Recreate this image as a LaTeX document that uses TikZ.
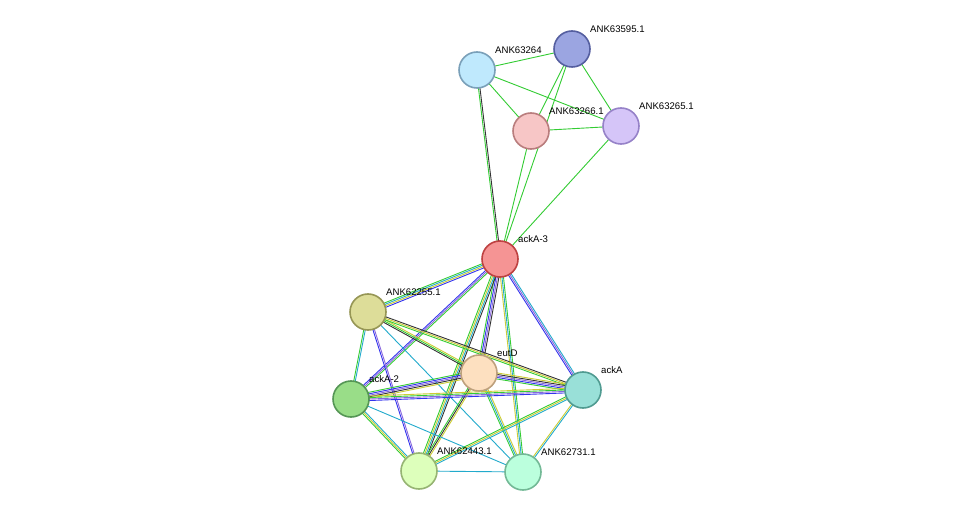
\documentclass[tikz,border=0pt]{standalone}
\usepackage{fontspec}
\setmainfont{Liberation Sans}
\usetikzlibrary{calc}
\definecolor{cg}{HTML}{33CC33}
\definecolor{cd}{HTML}{333333}
\definecolor{cb}{HTML}{3333EE}
\definecolor{cc}{HTML}{22AACC}
\definecolor{cy}{HTML}{CCCC33}
\definecolor{cp}{HTML}{8866DD}
\newcommand\edg[4]{\foreach \c [count=\i] in {#4} {\pgfmathsetmacro\o{(\i-(#3+1)/2)*1.5}
 \draw[\c,line width=0.9pt] ($(#1)!\o pt!90:(#2)$) -- ($(#2)!\o pt!-90:(#1)$);}}
\tikzset{prot/.style={circle,minimum size=36pt,inner sep=0pt,line width=1.6pt},
 lab/.style={font=\fontsize{9.6}{11}\selectfont,anchor=south west,inner sep=0pt}}
\begin{document}
\begin{tikzpicture}[x=1pt,y=-1pt]
\useasboundingbox[fill=white] (0,0) rectangle (976,518);
\coordinate (p64) at (477,70);
\coordinate (p95) at (572,49);
\coordinate (p66) at (531,131);
\coordinate (p65) at (621,126);
\coordinate (a3) at (500,259);
\coordinate (p55) at (368,312);
\coordinate (eu) at (479,373);
\coordinate (a2) at (351,399);
\coordinate (aa) at (583,390);
\coordinate (p43) at (419,471);
\coordinate (p31) at (523,472);
\edg{p64}{p95}{1}{cg}
\edg{p64}{p66}{1}{cg}
\edg{p64}{p65}{1}{cg}
\edg{p95}{p66}{1}{cg}
\edg{p95}{p65}{1}{cg}
\edg{p66}{p65}{1}{cg}
\edg{p65}{a3}{1}{cg}
\edg{p66}{a3}{1}{cg}
\edg{p95}{a3}{1}{cg}
\edg{p64}{a3}{2}{cg,cd}
\edg{a3}{p55}{4}{cg,cc,cy,cb}
\edg{a3}{eu}{4}{cg,cb,cp,cd}
\edg{a3}{a2}{3}{cb,cp,cg}
\edg{a3}{aa}{3}{cb,cp,cc}
\edg{a3}{p43}{4}{cg,cy,cc,cd}
\edg{a3}{p31}{3}{cy,cc,cg}
\edg{p55}{eu}{3}{cd,cg,cy}
\edg{p55}{a2}{2}{cg,cc}
\edg{p55}{aa}{3}{cg,cy,cd}
\edg{p55}{p43}{2}{cb,cp}
\edg{p55}{p31}{1}{cc}
\edg{eu}{a2}{5}{cg,cb,cp,cd,cy}
\edg{eu}{aa}{5}{cg,cb,cp,cd,cy}
\edg{eu}{p43}{3}{cg,cd,cy}
\edg{eu}{p31}{3}{cg,cc,cy}
\edg{a2}{aa}{4}{cb,cp,cg,cy}
\edg{a2}{p43}{3}{cg,cy,cc}
\edg{a2}{p31}{1}{cc}
\edg{aa}{p43}{3}{cg,cy,cc}
\edg{aa}{p31}{2}{cy,cc}
\edg{p43}{p31}{1}{cc}
\node[lab] at (495,54) {ANK63264};
\node[prot,fill={rgb,255:red,191;green,233;blue,253},draw={rgb,255:red,122;green,160;blue,185}] (n64) at (p64) {};
\node[prot,fill={rgb,255:red,155;green,165;blue,225},draw={rgb,255:red,85;green,95;blue,160}] (n95) at (p95) {};
\node[prot,fill={rgb,255:red,247;green,198;blue,198},draw={rgb,255:red,185;green,125;blue,125}] (n66) at (p66) {};
\node[prot,fill={rgb,255:red,213;green,197;blue,248},draw={rgb,255:red,150;green,130;blue,200}] (n65) at (p65) {};
\node[prot,fill={rgb,255:red,245;green,148;blue,148},draw={rgb,255:red,190;green,65;blue,65}] (na3) at (a3) {};
\node[prot,fill={rgb,255:red,221;green,221;blue,153},draw={rgb,255:red,150;green,150;blue,85}] (n55) at (p55) {};
\node[prot,fill={rgb,255:red,253;green,224;blue,192},draw={rgb,255:red,190;green,160;blue,125}] (neu) at (eu) {};
\node[prot,fill={rgb,255:red,153;green,221;blue,136},draw={rgb,255:red,85;green,150;blue,85}] (na2) at (a2) {};
\node[prot,fill={rgb,255:red,153;green,224;blue,216},draw={rgb,255:red,80;green,155;blue,145}] (naa) at (aa) {};
\node[prot,fill={rgb,255:red,221;green,255;blue,187},draw={rgb,255:red,150;green,180;blue,115}] (n43) at (p43) {};
\node[prot,fill={rgb,255:red,187;green,255;blue,221},draw={rgb,255:red,115;green,185;blue,150}] (n31) at (p31) {};
\node[lab] at (590,33) {ANK63595.1};
\node[lab] at (549,115) {ANK63266.1};
\node[lab] at (639,110) {ANK63265.1};
\node[lab] at (518,243) {ackA-3};
\node[lab] at (386,296) {ANK62255.1};
\node[lab] at (497,357) {eutD};
\node[lab] at (369,383) {ackA-2};
\node[lab] at (601,374) {ackA};
\node[lab] at (437,455) {ANK62443.1};
\node[lab] at (541,456) {ANK62731.1};
\end{tikzpicture}
\end{document}
